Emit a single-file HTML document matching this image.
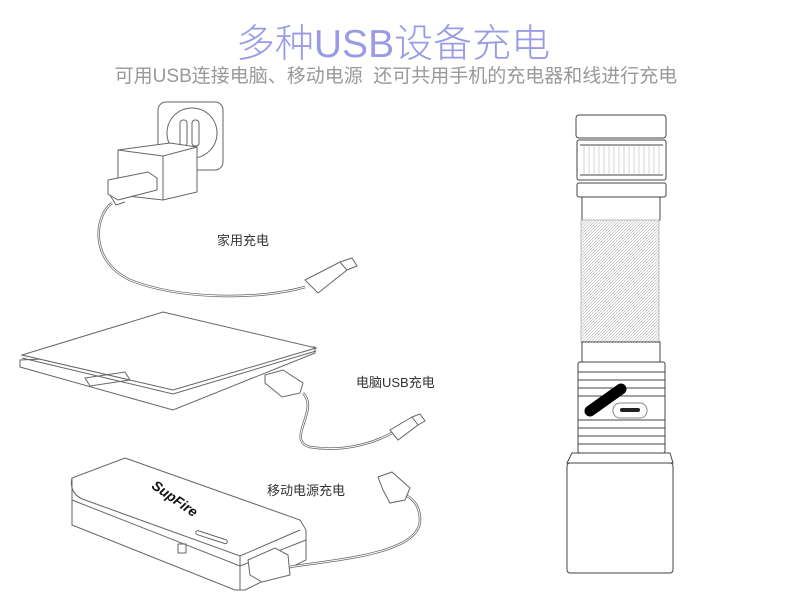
<!DOCTYPE html>
<html><head><meta charset="utf-8"><style>
html,body{margin:0;padding:0;background:#fff;}
#c{position:relative;width:790px;height:600px;overflow:hidden;font-family:"Liberation Sans","Noto Sans CJK SC",sans-serif;}
.t{position:absolute;white-space:nowrap;}
</style></head><body><div id="c">
<div class="t" style="left:0;width:786px;text-align:center;top:13px;font-size:39px;color:#9a9be6;font-weight:300;">多种USB设备充电</div>
<div class="t" style="left:0;width:792px;text-align:center;top:61px;font-size:19px;color:#999;">可用USB连接电脑、移动电源&nbsp; 还可共用手机的充电器和线进行充电</div>
<div class="t" style="left:217px;top:230px;font-size:13px;color:#333;">家用充电</div>
<div class="t" style="left:356px;top:372px;font-size:13px;color:#333;">电脑USB充电</div>
<div class="t" style="left:267px;top:480px;font-size:13px;color:#333;">移动电源充电</div>
<svg width="790" height="600" style="position:absolute;left:0;top:0" fill="none" stroke="#666" stroke-width="1">
<defs><pattern id="h" width="3" height="3" patternUnits="userSpaceOnUse"><path d="M0 3L3 0" stroke="#bbb" stroke-width="0.7"/></pattern></defs>
<!-- outlet -->
<rect x="158" y="102" width="65" height="68" rx="8"/>
<circle cx="192" cy="133" r="25"/>
<rect x="180" y="120" width="7" height="26" rx="3"/><rect x="192" y="120" width="7" height="26" rx="3"/>
<!-- charger cube -->
<path d="M118 150 L170 143 L197 147 L197 192 L163 200 L118 195 Z" fill="#fff"/>
<path d="M118 150 L163 156 L197 147 M163 156 L163 200"/>
<!-- usb plug -->
<path d="M108 180 L148 172 L157 178 L157 190 L118 200 L108 194 Z" fill="#fff"/>
<path d="M110 195 L116 205 L125 202"/>
<!-- cable 1 -->
<path d="M112 203 C95 215 88 260 130 280 C180 300 260 300 305 287" stroke-width="2.5" stroke="#666"/>
<path d="M112 203 C95 215 88 260 130 280 C180 300 260 300 305 287" stroke-width="1" stroke="#fff"/>
<path d="M305 280 L340 262 L347 270 L318 293 Z" fill="#fff"/>
<path d="M340 262 L352 258 L357 266 L347 270"/>
<!-- laptop -->
<path d="M20 367 L173 410 L315 353 L315 347 L20 360 Z" fill="#fff"/>
<path d="M22 355 L163 312 L316 348 L173 390 Z" fill="#fff"/>
<path d="M22 358 L173 394 L316 351"/>
<path d="M85 378 L125 372 L130 380 L90 386 Z"/>
<!-- usb plug 2 -->
<path d="M265 375 L283 370 L303 383 L300 393 L282 397 L265 383 Z" fill="#fff"/>
<path d="M303 393 C320 410 285 440 310 447 C340 452 370 445 392 433" stroke-width="2.5" stroke="#666"/>
<path d="M303 393 C320 410 285 440 310 447 C340 452 370 445 392 433" stroke="#fff"/>
<path d="M390 430 L412 417 L418 425 L398 440 Z" fill="#fff"/>
<path d="M412 417 L420 414 L425 421 L418 425"/>
<!-- power bank -->
<path d="M72 478 L125 458 L300 520 L306 530 L306 560 L245 590 L235 590 L72 525 Z" fill="#fff"/>
<path d="M72 478 C70 485 72 496 85 500 L240 556 L300 530 M72 500 L240 566 L306 540 M240 556 L240 590"/>
<rect x="195" y="535" width="33" height="4" rx="2" transform="rotate(18 211 537)"/>
<rect x="178" y="544" width="8" height="9"/>
<text x="150" y="500" font-size="14" font-weight="bold" font-style="italic" fill="#111" stroke="none" transform="rotate(35 170 495)" font-family="Liberation Sans">SupFire</text>
<!-- plug 3 -->
<path d="M248 560 L275 548 L288 555 L290 575 L262 582 L250 575 Z" fill="#fff"/>
<path d="M290 567 C330 560 420 555 420 520 C420 505 412 498 405 495" stroke-width="2.5" stroke="#666"/>
<path d="M290 567 C330 560 420 555 420 520 C420 505 412 498 405 495" stroke="#fff"/>
<path d="M378 477 L392 472 L410 488 L405 500 L390 503 L383 490 Z" fill="#fff"/>
<!-- flashlight -->
<g stroke="#444">
<rect x="576" y="115" width="90" height="23" rx="3"/>
<rect x="577" y="140" width="89" height="40" rx="2"/>
<path d="M580 145 H663 M580 175 H663"/>
<g stroke="#bbb" stroke-width="0.6"><path d="M584 146v28M589 146v28M594 146v28M599 146v28M604 146v28M609 146v28M614 146v28M619 146v28M624 146v28M629 146v28M634 146v28M639 146v28M644 146v28M649 146v28M654 146v28M659 146v28"/></g>
<rect x="577" y="183" width="89" height="14" rx="2"/>
<rect x="582" y="197" width="78" height="23"/>
<rect x="581" y="220" width="78" height="122" fill="url(#h)" stroke="#bbb"/>
<rect x="582" y="342" width="78" height="20"/>
<rect x="578" y="362" width="87" height="91" rx="2"/>
<path d="M578 372 H665 M578 380 H665 M578 388 H665 M578 396 H665 M578 420 H665 M578 428 H665 M578 436 H665 M578 444 H665"/>
<path d="M572 453 L670 453 L673 463 L567 463 Z"/>
<rect x="567" y="463" width="106" height="110" rx="3"/>
<rect x="613" y="403" width="34" height="15" rx="7" fill="#fff" stroke="#888"/>
<rect x="620" y="408" width="20" height="4" rx="2" fill="#222" stroke="none"/>
<path d="M590 411 L621 389" stroke="#000" stroke-width="11" stroke-linecap="round"/>
</g>
</svg>
</div></body></html>
